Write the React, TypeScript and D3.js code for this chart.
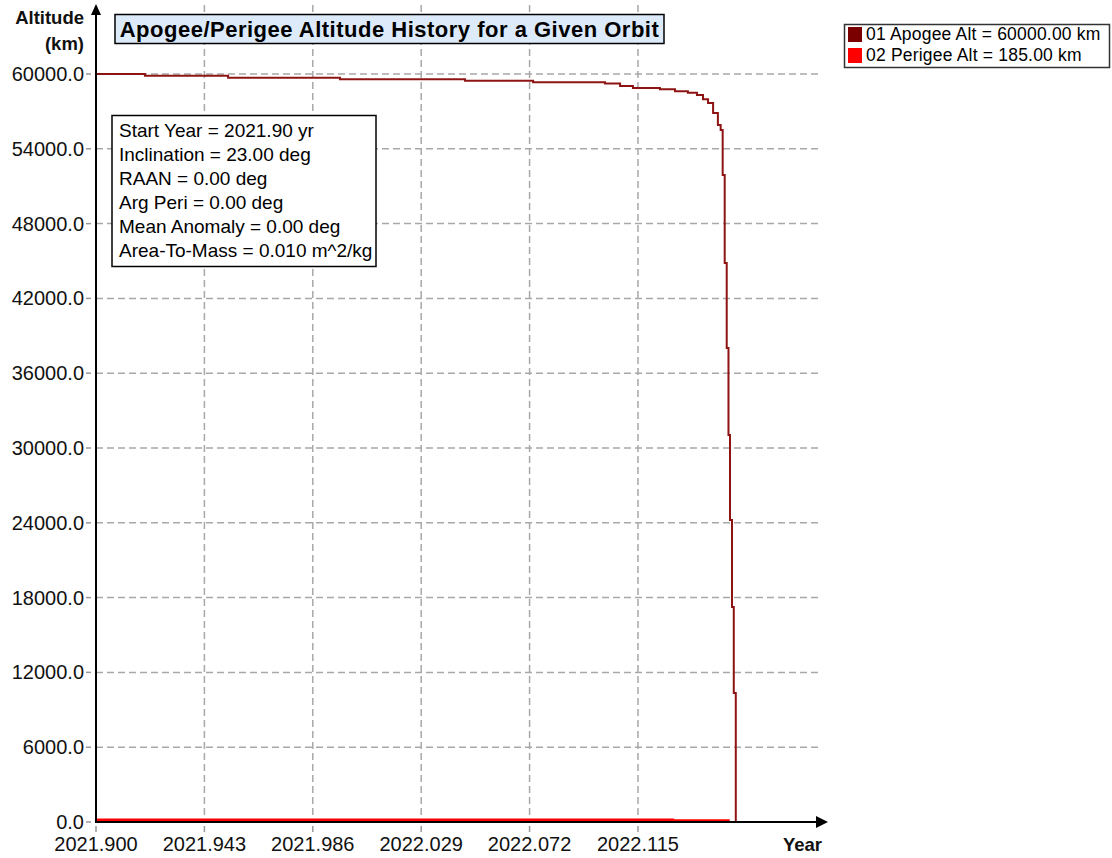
import React from 'react';
import * as d3 from 'd3';

// apogee altitude history (year, km)
const apogeeYears = [
  2021.9, 2021.9194, 2021.9524, 2021.9968, 2022.0464, 2022.0734, 2022.1019, 2022.1079,
  2022.113, 2022.1237, 2022.1297, 2022.1348, 2022.1384, 2022.1408, 2022.1428, 2022.1448,
  2022.1467, 2022.1478, 2022.1486, 2022.1494, 2022.1502, 2022.1509, 2022.1515, 2022.1523,
  2022.153, 2022.1538, 2022.1538,
];
const apogeeAlts = [
  60000, 59863, 59703, 59575, 59462, 59334, 59238, 59037,
  58877, 58773, 58612, 58500, 58316, 57971, 57674, 56872,
  55909, 55508, 51898, 44840, 38021, 31043, 24225, 17246,
  10348, 4171, 0,
];

// perigee altitude history
const perigeeYears = [2021.9, 2022.1289, 2022.1514];
const perigeeAlts = [185, 130, 130];

const yTicks = [0, 6000, 12000, 18000, 24000, 30000, 36000, 42000, 48000, 54000, 60000];
const xTicks = [2021.9, 2021.943, 2021.986, 2022.029, 2022.072, 2022.115];
const xTickLabels = ['2021.900', '2021.943', '2021.986', '2022.029', '2022.072', '2022.115'];

const infoLines = [
  'Start Year = 2021.90 yr',
  'Inclination = 23.00 deg',
  'RAAN = 0.00 deg',
  'Arg Peri = 0.00 deg',
  'Mean Anomaly = 0.00 deg',
  'Area-To-Mass = 0.010 m^2/kg',
];

const legendLabels = ['01 Apogee Alt = 60000.00 km', '02 Perigee Alt = 185.00 km'];
const legendColors = ['#7a0000', '#ff0000'];

const title = 'Apogee/Perigee Altitude History for a Given Orbit';

const font = '"Liberation Sans", Arial, sans-serif';

export default function App() {
  const left = 96, right = 822, top = 74, bottom = 822;

  const x = d3.scaleLinear().domain([2021.9, 2022.188]).range([left, right]);
  const y = d3.scaleLinear().domain([0, 60000]).range([bottom, top]);

  const line = d3.line<[number, number]>()
    .x(d => x(d[0]))
    .y(d => y(d[1]))
    .curve(d3.curveStepAfter);

  const apogee = apogeeYears.map((yr, i) => [yr, apogeeAlts[i]] as [number, number]);
  const perigee = perigeeYears.map((yr, i) => [yr, perigeeAlts[i]] as [number, number]);

  return (
    <div style={{ position: 'absolute', left: 0, top: 0 }}>
      <svg width={1112} height={858} style={{ display: 'block', background: '#fff' }} fontFamily={font}>
        {/* grid */}
        <g stroke="#a8a8a8" strokeWidth={1.5} strokeDasharray="7,4">
          {yTicks.filter(t => t > 0).map(t => (
            <line key={'h' + t} x1={left} x2={right} y1={y(t)} y2={y(t)} />
          ))}
          {xTicks.filter((t, i) => i > 0).map(t => (
            <line key={'v' + t} x1={x(t)} x2={x(t)} y1={5} y2={bottom} />
          ))}
        </g>

        {/* tick marks */}
        <g stroke="#999" strokeWidth={1.5}>
          {yTicks.map(t => (
            <line key={'yt' + t} x1={86} x2={91} y1={y(t)} y2={y(t)} />
          ))}
          {xTicks.map(t => (
            <line key={'xt' + t} x1={x(t)} x2={x(t)} y1={826} y2={832} />
          ))}
        </g>

        {/* y tick labels */}
        <g fontSize={20} fill="#111" textAnchor="end">
          {yTicks.map(t => (
            <text key={'yl' + t} x={84} y={y(t) + 7}>{d3.format('.1f')(t)}</text>
          ))}
        </g>

        {/* x tick labels */}
        <g fontSize={20} fill="#111" textAnchor="middle">
          {xTicks.map((t, i) => (
            <text key={'xl' + t} x={x(t)} y={851}>{xTickLabels[i]}</text>
          ))}
        </g>

        {/* axis titles */}
        <g fontSize={18.5} fontWeight="bold" fill="#111" textAnchor="end">
          <text x={84} y={24}>Altitude</text>
          <text x={84} y={50}>(km)</text>
          <text x={822} y={851}>Year</text>
        </g>

        {/* series */}
        <path d={line(perigee) || ''} fill="none" stroke="#ff0000" strokeWidth={2.5} />
        <path d={line(apogee) || ''} fill="none" stroke="#8e1414" strokeWidth={2} />

        {/* axes with arrows */}
        <line x1={left} x2={left} y1={bottom + 1} y2={12} stroke="#000" strokeWidth={2} />
        <path d={`M${left},4 L${left - 5},15 L${left + 5},15 Z`} fill="#000" />
        <line x1={left - 1} x2={820} y1={bottom} y2={bottom} stroke="#000" strokeWidth={2} />
        <path d={`M828,${bottom} L816,${bottom - 6} L816,${bottom + 6} Z`} fill="#000" />

        {/* title */}
        <rect x={115} y={14.5} width={549} height={29} fill="#dceafa" stroke="#000" strokeWidth={1.5} />
        <text x={389.5} y={37} fontSize={22} fontWeight="bold" letterSpacing={0.5} textAnchor="middle" fill="#000">{title}</text>

        {/* info box */}
        <rect x={112} y={115.5} width={264} height={151} fill="#fff" stroke="#000" strokeWidth={1.5} />
        <g fontSize={19} fill="#000">
          {infoLines.map((s, i) => (
            <text key={s} x={119} y={137 + i * 24}>{s}</text>
          ))}
        </g>

        {/* legend */}
        <rect x={844.5} y={24.5} width={265} height={43} fill="#fff" stroke="#333" strokeWidth={1.5} />
        {legendLabels.map((s, i) => (
          <g key={s}>
            <rect x={848} y={27 + i * 21} width={14} height={15} fill={legendColors[i]} />
            <text x={866} y={40 + i * 21} fontSize={17.5} letterSpacing={0.2} fill="#000">{s}</text>
          </g>
        ))}
      </svg>
    </div>
  );
}
